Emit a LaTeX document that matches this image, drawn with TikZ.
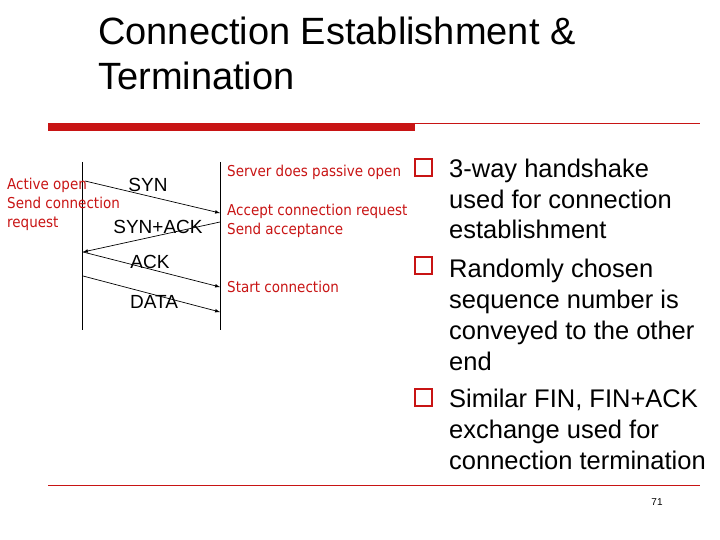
\documentclass[tikz,border=0pt]{standalone}
\usepackage{fontspec}
\setmainfont{Liberation Sans}
\newfontfamily\labelfont{DejaVu Sans Condensed}
\usetikzlibrary{positioning}
\definecolor{slidered}{RGB}{200,20,20}
\tikzset{
  timeline/.style={line width=0.7pt},
  msg/.style={-latex, line width=0.7pt},
  note/.style={text=slidered, font=\labelfont\fontsize{15}{19}\selectfont, align=left, inner sep=0pt, anchor=base west},
  signal/.style={font=\fontsize{19}{21}\selectfont, inner sep=0pt},
  bullet/.style={draw=slidered, line width=2pt, minimum size=17pt, inner sep=0pt},
  point/.style={font=\fontsize{25.5}{31}\selectfont, align=left, inner sep=0pt, anchor=base west}
}
\begin{document}
\begin{tikzpicture}[x=1pt,y=-1pt]
  \useasboundingbox (0,0) rectangle (720,540);
  % title
  \node[anchor=base west, align=left, inner sep=0pt, font=\fontsize{38}{45}\selectfont] (title) at (98,90) {Connection Establishment \&\\Termination};
  \fill[slidered] (48,123) rectangle (415,131);
  \draw[slidered, line width=0.5pt] (415,123) -- (700,123);
  \draw[slidered, line width=0.5pt] (48,485) -- (700,485);
  % time lines
  \coordinate (c1) at (82,162);
  \coordinate (c2) at (82,330);
  \coordinate (s1) at (220,162);
  \coordinate (s2) at (220,330);
  \draw[timeline] (c1) -- (c2);
  \draw[timeline] (s1) -- (s2);
  \coordinate (synA) at (85,181);
  \coordinate (synB) at (220,213);
  \coordinate (saA) at (220,222);
  \coordinate (saB) at (83,252);
  \coordinate (ackB) at (220,287);
  \coordinate (datA) at (83,276);
  \coordinate (datB) at (220,312);
  \draw[msg] (synA) -- (synB);
  \draw[msg] (saA) -- (saB);
  \draw[msg] (saB) -- (ackB);
  \draw[msg] (datA) -- (datB);
  \node[signal] (syn) at (148,185) {SYN};
  \node[signal] (synack) at (158,227) {SYN+ACK};
  \node[signal] (ack) at (150,262) {ACK};
  \node[signal] (data) at (154,302) {DATA};
  % notes
  \node[note] (client) at (7,227) {Active open\\Send connection\\request};
  \node[note] (passive) at (227,177) {Server does passive open};
  \node[note] (accept) at (227,234) {Accept connection request\\Send acceptance};
  \node[note] (start) at (227,292) {Start connection};
  % bullets
  \node[bullet] (b1) at (423,168) {};
  \node[bullet] (b2) at (423,265) {};
  \node[bullet] (b3) at (423,397) {};
  \node[point] (p1) at (449,239) {3-way handshake\\used for connection\\establishment};
  \node[point] (p2) at (449,370) {Randomly chosen\\sequence number is\\conveyed to the other\\end};
  \node[point] (p3) at (449,469) {Similar FIN, FIN+ACK\\exchange used for\\connection termination};
  \node[font=\fontsize{10}{11}\selectfont] (page) at (657,502) {71};
\end{tikzpicture}
\end{document}
